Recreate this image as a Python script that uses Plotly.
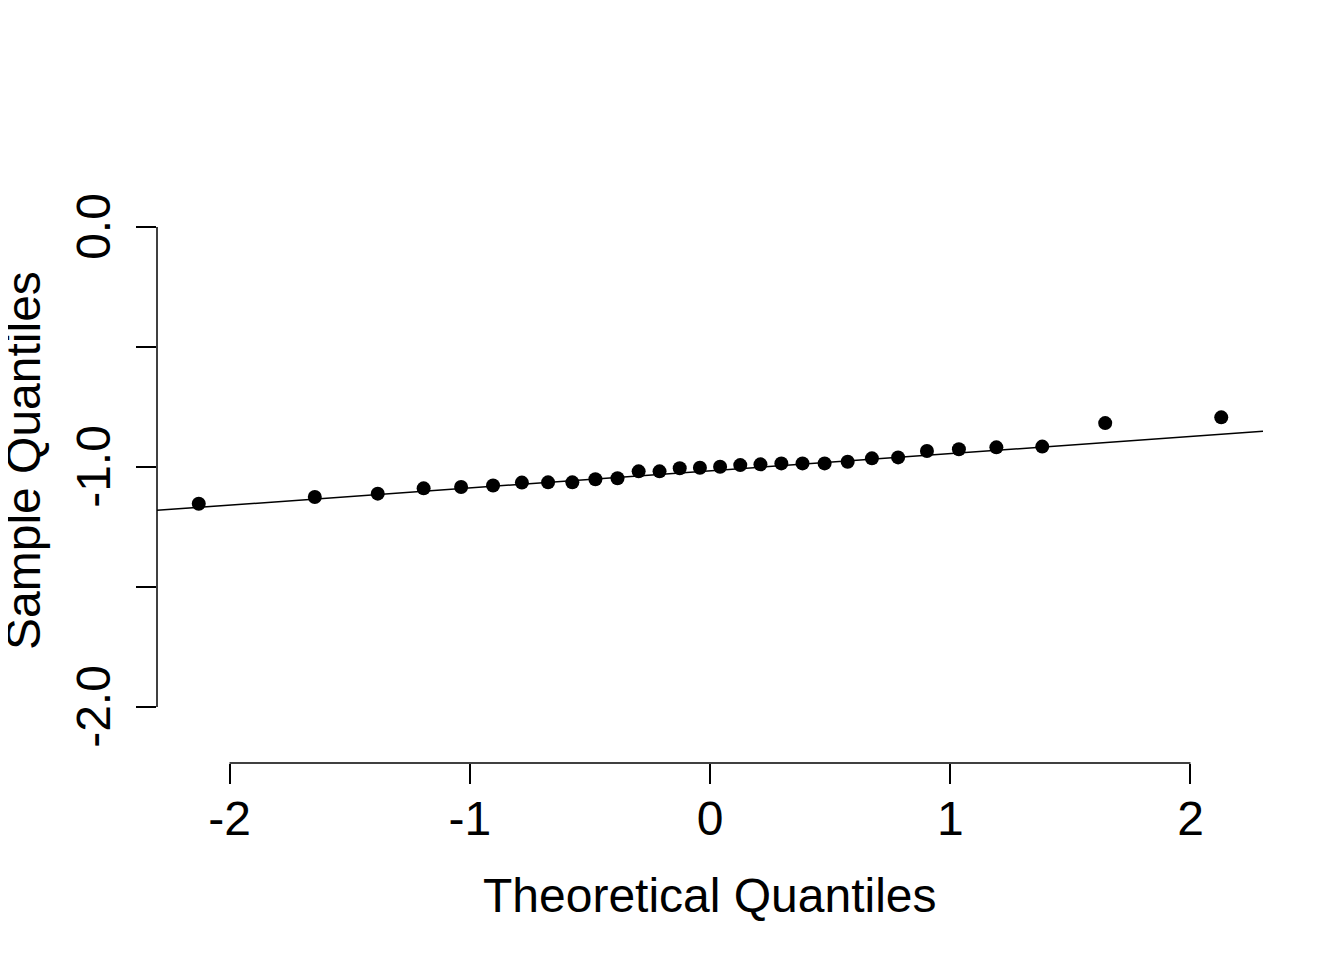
import numpy as np
import plotly.graph_objects as go

# Theoretical normal quantiles for n = 30 (qnorm(ppoints(30)))
theoretical = [-2.128, -1.645, -1.383, -1.192, -1.036, -0.903, -0.783, -0.674,
               -0.573, -0.477, -0.385, -0.297, -0.210, -0.126, -0.042,
               0.042, 0.126, 0.210, 0.297, 0.385, 0.477, 0.573, 0.674,
               0.783, 0.903, 1.036, 1.192, 1.383, 1.645, 2.128]
# Sorted sample values
sample = [-1.153, -1.125, -1.111, -1.089, -1.083, -1.077, -1.065, -1.064,
          -1.064, -1.051, -1.047, -1.018, -1.018, -1.005, -1.003,
          -0.999, -0.992, -0.989, -0.985, -0.985, -0.985, -0.978, -0.964,
          -0.960, -0.933, -0.926, -0.918, -0.915, -0.817, -0.793]

x_ticks = [-2, -1, 0, 1, 2]
x_labels = ["-2", "-1", "0", "1", "2"]
y_ticks = [-2.0, -1.5, -1.0, -0.5, 0.0]
y_labels = ["-2.0", "", "-1.0", "", "0.0"]

x_title = "Theoretical Quantiles"
y_title = "Sample Quantiles"

# qqline: line through the first and third quartiles
q1, q3 = np.quantile(sample, [0.25, 0.75])
z1, z3 = -0.6745, 0.6745
slope = (q3 - q1) / (z3 - z1)
intercept = q1 - slope * z1

x_range = [-2.3018, 2.3018]
y_range = [-2.2333, 0.0792]
line_x = np.array(x_range)
line_y = intercept + slope * line_x

FONT = "Liberation Sans, Arial, Helvetica, sans-serif"
FS = 48
NBSP = "\u00a0"

fig = go.Figure()
fig.add_trace(go.Scatter(x=line_x, y=line_y, mode="lines",
                         line=dict(color="black", width=1.5),
                         hoverinfo="skip", showlegend=False))
fig.add_trace(go.Scatter(x=theoretical, y=sample, mode="markers",
                         marker=dict(color="black", size=14),
                         showlegend=False, cliponaxis=False))

fig.update_layout(
    width=1344, height=960,
    paper_bgcolor="white", plot_bgcolor="white",
    margin=dict(l=149, r=89, t=200, b=205),
    font=dict(family=FONT, size=FS, color="black"),
    xaxis=dict(range=x_range, tickvals=x_ticks, ticktext=x_labels,
               ticks="outside", ticklen=20, tickwidth=1.5, tickcolor="black",
               showgrid=False, zeroline=False, showline=False,
               tickfont=dict(family=FONT, size=FS, color="black"),
               ticklabelstandoff=-7),
    yaxis=dict(range=y_range, tickvals=y_ticks,
               ticktext=[t + NBSP if t else t for t in y_labels],
               ticks="outside", ticklen=20, tickwidth=1.5, tickcolor="black",
               showgrid=False, zeroline=False, showline=False,
               tickangle=-90,
               tickfont=dict(family=FONT, size=FS, color="black"),
               ticklabelstandoff=7),
    shapes=[
        dict(type="line", xref="x", yref="paper", x0=-2, x1=2, y0=0, y1=0,
             line=dict(color="black", width=1.5)),
        dict(type="line", xref="paper", yref="y", x0=0, x1=0, y0=-2, y1=0,
             line=dict(color="black", width=1.5)),
    ],
    annotations=[
        dict(text=x_title, xref="x", yref="paper", x=0, y=0, yshift=-132,
             showarrow=False, xanchor="center", yanchor="middle",
             font=dict(family=FONT, size=FS, color="black")),
        dict(text=y_title, xref="paper", yref="y", x=0, y=-1.0,
             xshift=-134, yshift=6,
             showarrow=False, xanchor="center", yanchor="middle", textangle=-90,
             font=dict(family=FONT, size=FS, color="black")),
    ],
)

fig.write_html("out.html")
